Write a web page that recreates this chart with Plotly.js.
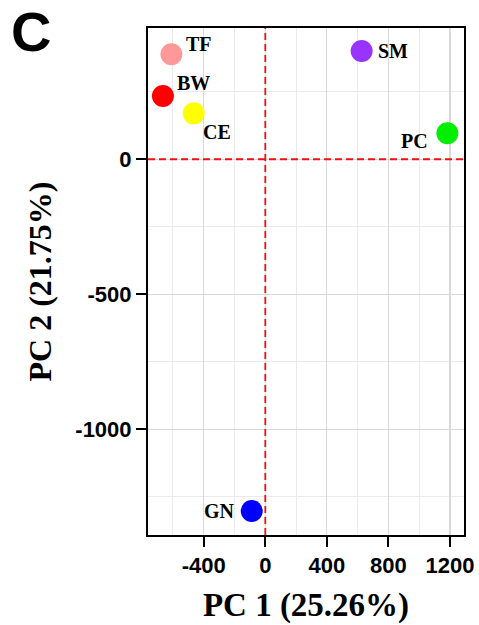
<!DOCTYPE html>
<html><head><meta charset="utf-8">
<script src="https://cdn.plot.ly/plotly-3.0.1.min.js"></script>
<style>html,body{margin:0;padding:0;background:#fff}#chart{width:479px;height:625px}</style>
</head><body><div id="chart"></div>
<script>
const samples = ["TF","SM","BW","CE","PC","GN"];
const pc1 = [-610, 626, -665, -465, 1183, -88];
const pc2 = [389, 401, 234, 170, 96, -1302];
const colors = ["#FF9999","#9933FF","#FF0000","#FFFF00","#00EE00","#0000FF"];
const xTicks = [-400, 0, 400, 800, 1200];
const xTickText = ["-400", "0", "400", "800", "1200"];
const yTicks = [-1000, -500, 0];
const yTickText = ["-1000", "-500", "0"];
const xTitle = "PC 1 (25.26%)";
const yTitle = "PC 2 (21.75%)";
const panel = "C";

// label placement (styles)
const lab = {
  TF:{xanchor:"left", xshift:13, yshift:10},
  SM:{xanchor:"left", xshift:14, yshift:0},
  BW:{xanchor:"left", xshift:12, yshift:13},
  CE:{xanchor:"left", xshift:7, yshift:-19},
  PC:{xanchor:"right", xshift:-17, yshift:-8},
  GN:{xanchor:"right", xshift:-15, yshift:0}
};

const serif = "Liberation Serif, Times New Roman, serif";
const sans = "Liberation Sans, Arial, sans-serif";

const trace = {
  x: pc1, y: pc2, type: "scatter", mode: "markers",
  marker: {color: colors, size: 22, line: {width: 0}},
  hoverinfo: "skip", cliponaxis: false
};

const annotations = samples.map((s,i)=>({
  x: pc1[i], y: pc2[i], xref:"x", yref:"y", text: s, showarrow:false,
  xanchor: lab[s].xanchor, yanchor:"middle", xshift: lab[s].xshift, yshift: lab[s].yshift,
  font:{family: serif, size: 20, color:"#000", weight:"bold"}
}));
annotations.push({
  text: panel, xref:"paper", yref:"paper", x: -0.44, y: 1.06, xanchor:"left", yanchor:"top",
  showarrow:false, font:{family: sans, size: 56, color:"#000", weight:"bold"}
});

const axisCommon = {
  showline:true, linecolor:"#000", linewidth:2, mirror:true,
  ticks:"outside", ticklen:10, tickwidth:2, tickcolor:"#000",
  showgrid:true, gridcolor:"#d9d9d9", gridwidth:1.2, zeroline:false,
  tickfont:{family: sans, size: 22, color:"#000", weight:"bold"},
  tickmode:"array"
};

const layout = {
  width:479, height:625,
  margin:{l:148, r:15, t:28, b:90},
  paper_bgcolor:"#fff", plot_bgcolor:"#fff",
  showlegend:false,
  xaxis: Object.assign({}, axisCommon, {
    range:[-762, 1291], tickvals: xTicks, ticktext: xTickText,
    minor:{tickmode:"linear", tick0:0, dtick:200, showgrid:true, gridcolor:"#ebebeb", gridwidth:1, ticks:""},
    title:{text:xTitle, standoff:15, font:{family: serif, size: 33, color:"#000", weight:"bold"}}
  }),
  yaxis: Object.assign({}, axisCommon, {
    range:[-1391, 486], tickvals: yTicks, ticktext: yTickText,
    minor:{tickmode:"linear", tick0:0, dtick:250, showgrid:true, gridcolor:"#ebebeb", gridwidth:1, ticks:""},
    title:{text:yTitle, standoff:14, font:{family: serif, size: 32, color:"#000", weight:"bold"}}
  }),
  shapes:[
    {type:"line", xref:"x", yref:"paper", x0:0, x1:0, y0:0, y1:1, line:{color:"#EE1111", width:1.8, dash:"7px,4px"}},
    {type:"line", xref:"paper", yref:"y", x0:0, x1:1, y0:0, y1:0, line:{color:"#EE1111", width:1.8, dash:"7px,4px"}}
  ],
  annotations: annotations
};

Plotly.newPlot("chart", [trace], layout, {staticPlot:true, displayModeBar:false});
</script>
</body></html>
